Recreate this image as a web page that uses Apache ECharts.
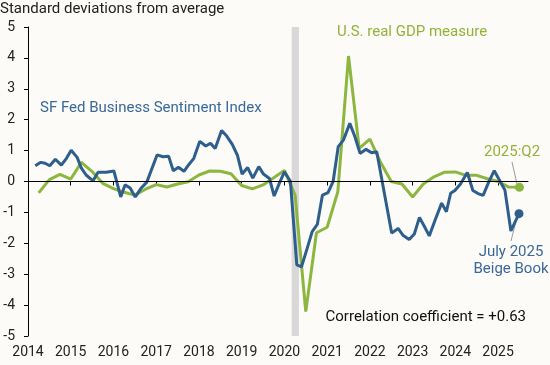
<!DOCTYPE html>
<html>
<head>
<meta charset="utf-8">
<script src="https://cdn.jsdelivr.net/npm/echarts@6/dist/echarts.min.js"></script>
<style>
html,body{margin:0;padding:0;background:#fcfbf7;}
#chart{width:550px;height:365px;}
</style>
</head>
<body>
<div id="chart"></div>
<script>
// Decimal-year dates and values (standard deviations from average)
const blueDates = [
  2014.17,2014.30,2014.40,2014.51,2014.64,2014.78,2014.90,2015.01,2015.15,2015.25,
  2015.36,2015.52,2015.64,2015.83,2016.01,2016.17,2016.27,2016.39,2016.51,2016.64,
  2016.78,2017.02,2017.16,2017.29,2017.40,2017.52,2017.65,2017.77,2017.88,2018.02,
  2018.16,2018.27,2018.38,2018.53,2018.65,2018.78,2018.90,2019.01,2019.14,2019.26,
  2019.40,2019.51,2019.65,2019.76,2019.88,2020.00,2020.14,2020.29,2020.40,2020.52,
  2020.65,2020.77,2020.89,2021.02,2021.14,2021.26,2021.38,2021.53,2021.65,2021.77,
  2021.91,2022.04,2022.16,2022.51,2022.66,2022.78,2022.92,2023.04,2023.16,2023.27,
  2023.39,2023.54,2023.68,2023.79,2023.89,2023.99,2024.12,2024.28,2024.41,2024.53,
  2024.65,2024.78,2024.91,2025.05,2025.16,2025.30,2025.49
];
const blueValues = [
  0.51,0.62,0.59,0.51,0.72,0.53,0.75,1.01,0.78,0.43,
  0.21,0.02,0.30,0.30,0.34,-0.50,-0.11,-0.21,-0.50,-0.23,
  -0.02,0.86,0.80,0.82,0.35,0.46,0.33,0.56,0.75,1.30,
  1.15,1.24,1.07,1.65,1.47,1.20,0.85,0.24,0.45,0.11,
  0.48,0.24,0.10,-0.47,-0.06,0.31,0.01,-2.70,-2.76,-2.22,
  -1.62,-1.39,-0.44,-0.36,0.00,1.13,1.34,1.88,1.45,0.91,
  1.04,0.93,0.96,-1.67,-1.52,-1.75,-1.88,-1.70,-1.16,-1.44,
  -1.76,-1.20,-0.70,-0.98,-0.38,-0.29,-0.08,0.29,-0.29,-0.39,
  -0.45,-0.02,0.35,0.00,-0.28,-1.60,-1.04
];
const greenDates = [
  2014.25,2014.50,2014.75,2015.00,2015.25,2015.50,2015.75,2016.00,2016.25,2016.50,
  2016.75,2017.00,2017.25,2017.50,2017.75,2018.00,2018.25,2018.50,2018.75,2019.00,
  2019.25,2019.50,2019.75,2020.00,2020.25,2020.50,2020.75,2021.00,2021.25,2021.50,
  2021.75,2022.00,2022.25,2022.50,2022.75,2023.00,2023.25,2023.50,2023.75,2024.00,
  2024.25,2024.50,2024.75,2025.00,2025.25,2025.50
];
const greenValues = [
  -0.37,0.06,0.23,0.08,0.62,0.32,-0.06,-0.23,-0.35,-0.44,
  -0.25,-0.10,-0.18,-0.08,-0.01,0.21,0.34,0.33,0.25,-0.13,
  -0.24,-0.11,0.12,0.36,-0.44,-4.21,-1.66,-1.48,-0.33,4.06,
  1.07,1.37,0.62,0.00,-0.08,-0.50,-0.08,0.15,0.30,0.31,
  0.20,0.20,0.09,0.00,-0.18,-0.19
];
const xTicks = [2014,2015,2016,2017,2018,2019,2020,2021,2022,2023,2024,2025];
const recession = [2020.17, 2020.34];

const BLUE = '#2d5e8c', GREEN = '#8cb640';
const FONT = 'Roboto';

function toPairs(d, v) {
  return d.map((t, i) => {
    const item = { value: [t, v[i]] };
    if (i === d.length - 1) { item.symbol = 'circle'; item.symbolSize = 9; }
    return item;
  });
}
function txt(text, x, y, fill, align) {
  return { type: 'text', x: x, y: y, style: { text: text, font: '15px Roboto', fill: fill,
    align: align, verticalAlign: 'middle', textAlign: align, textVerticalAlign: 'middle' } };
}

const chart = echarts.init(document.getElementById('chart'), null, { renderer: 'canvas' });
chart.setOption({
  backgroundColor: '#fcfbf7',
  animation: false,
  grid: { left: 28, right: 22, top: 27, bottom: 29 },
  xAxis: {
    type: 'value', min: 2014, max: 2025.7,
    axisLine: { show: true, lineStyle: { color: '#000', width: 1 } },
    axisTick: { show: true, customValues: xTicks, length: 4, lineStyle: { color: '#000' } },
    axisLabel: { customValues: xTicks, color: '#222', fontSize: 14, fontFamily: FONT, margin: 9,
                 formatter: v => String(Math.round(v)) },
    splitLine: { show: false }
  },
  yAxis: {
    type: 'value', min: -5, max: 5, interval: 1,
    axisLine: { show: true, lineStyle: { color: '#000', width: 1 } },
    axisTick: { show: true, length: 4, lineStyle: { color: '#000' } },
    axisLabel: { color: '#222', fontSize: 14, fontFamily: FONT, margin: 13 },
    splitLine: { show: false }
  },
  series: [
    {
      type: 'line', data: [], z: 1, silent: true,
      markArea: { silent: true, itemStyle: { color: '#d8d8d8' },
        data: [[{ xAxis: recession[0] }, { xAxis: recession[1] }]] },
      markLine: { silent: true, symbol: ['none', 'none'], label: { show: false },
        lineStyle: { color: '#000', width: 1, type: 'solid' },
        data: [{ yAxis: 0 }] }
    },
    {
      type: 'line', z: 3, data: toPairs(greenDates, greenValues),
      symbol: 'none', showSymbol: true,
      lineStyle: { color: GREEN, width: 3 }, itemStyle: { color: GREEN }
    },
    {
      type: 'line', z: 4, data: toPairs(blueDates, blueValues),
      symbol: 'none', showSymbol: true,
      lineStyle: { color: BLUE, width: 3 }, itemStyle: { color: BLUE }
    }
  ],
  graphic: [
    txt('Standard deviations from average', 0, 9, '#222', 'left'),
    txt('SF Fed Business Sentiment Index', 40, 108, '#3a6898', 'left'),
    txt('U.S. real GDP measure', 337, 32, '#93b23b', 'left'),
    txt('2025:Q2', 484, 152, '#93b23b', 'left'),
    txt('July 2025', 511, 252, '#3a6898', 'center'),
    txt('Beige Book', 511, 269, '#3a6898', 'center'),
    txt('Correlation coefficient = +0.63', 526, 317, '#111', 'right'),
    { type: 'line', shape: { x1: 512, y1: 162, x2: 517, y2: 184 }, style: { stroke: '#9a9a9a', lineWidth: 1 } },
    { type: 'line', shape: { x1: 517, y1: 217, x2: 511, y2: 241 }, style: { stroke: '#9a9a9a', lineWidth: 1 } }
  ]
});
</script>
</body>
</html>
